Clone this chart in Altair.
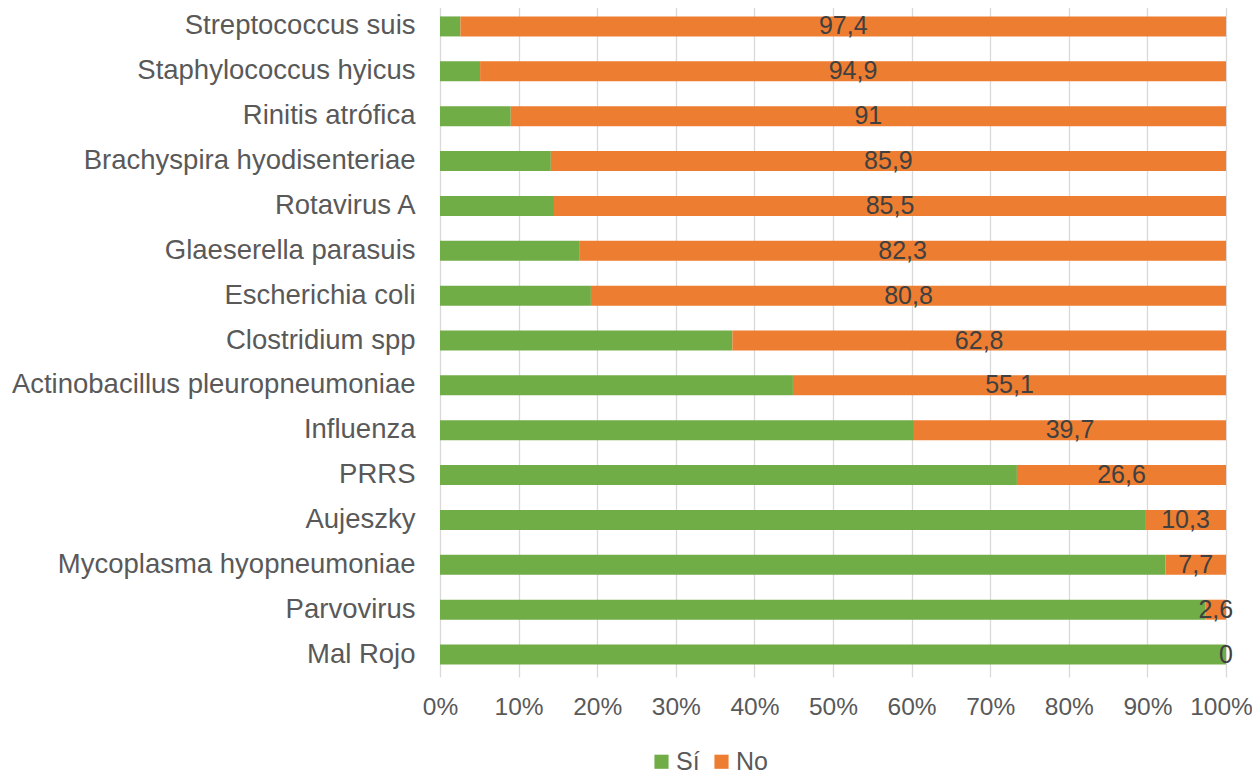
import altair as alt
import pandas as pd

categories = [
    "Streptococcus suis", "Staphylococcus hyicus", "Rinitis atrófica",
    "Brachyspira hyodisenteriae", "Rotavirus A", "Glaeserella parasuis",
    "Escherichia coli", "Clostridium spp", "Actinobacillus pleuropneumoniae",
    "Influenza", "PRRS", "Aujeszky", "Mycoplasma hyopneumoniae",
    "Parvovirus", "Mal Rojo",
]
si_values = [2.6, 5.1, 9.0, 14.1, 14.5, 17.7, 19.2, 37.2, 44.9, 60.3, 73.4, 89.7, 92.3, 97.4, 100.0]
no_values = [97.4, 94.9, 91.0, 85.9, 85.5, 82.3, 80.8, 62.8, 55.1, 39.7, 26.6, 10.3, 7.7, 2.6, 0.0]
no_labels = ["97,4", "94,9", "91", "85,9", "85,5", "82,3", "80,8", "62,8",
             "55,1", "39,7", "26,6", "10,3", "7,7", "2,6", "0"]
series = ["Sí", "No"]
colors = ["#70AD47", "#ED7D31"]

rows = []
for c, s, n in zip(categories, si_values, no_values):
    rows.append({"cat": c, "serie": "Sí", "value": s, "ord": 0})
    rows.append({"cat": c, "serie": "No", "value": n, "ord": 1})
long_df = pd.DataFrame(rows)
wide_df = pd.DataFrame({"cat": categories, "si": si_values, "no": no_values, "lbl": no_labels})

FONT = "Liberation Sans"

y_enc = alt.Y("cat:N", sort=categories, title=None,
              scale=alt.Scale(paddingInner=0, paddingOuter=0),
              axis=alt.Axis(labelFontSize=27.5, labelColor="#595959", labelFont=FONT,
                            labelPadding=25, domain=False, ticks=False, grid=False,
                            labelLimit=600))

bars = alt.Chart(long_df).mark_bar(size=20).encode(
    x=alt.X("value:Q", stack="zero", title=None,
            scale=alt.Scale(domain=[0, 100], nice=False),
            axis=alt.Axis(values=list(range(0, 101, 10)), labelExpr="datum.value + '%'",
                          labelFontSize=24.5, labelColor="#595959", labelFont=FONT,
                          labelPadding=18, labelOverlap=False, labelFlush=False,
                          labelOffset={"condition": {"test": "datum.value == 100", "value": -5},
                                       "value": 0},
                          domain=False, ticks=False, grid=True,
                          gridColor="#D9D9D9", gridWidth=1.3)),
    y=y_enc,
    color=alt.Color("serie:N", sort=series,
                    scale=alt.Scale(domain=series, range=colors),
                    legend=alt.Legend(title=None, orient="none", direction="horizontal",
                                      legendX=209, legendY=745, symbolType="square",
                                      symbolSize=200, symbolStrokeWidth=0,
                                      labelFontSize=25, labelColor="#595959",
                                      labelFont=FONT, columnPadding=9, labelOffset=2)),
    order=alt.Order("ord:Q"),
)

texts = alt.Chart(wide_df).transform_calculate(
    mid="datum.si + datum.no / 2"
).mark_text(fontSize=25, color="#404040", font=FONT, align="center", baseline="middle").encode(
    x=alt.X("mid:Q"),
    y=alt.Y("cat:N", sort=categories),
    text="lbl:N",
)

chart = alt.layer(bars, texts).properties(
    width=786, height=673,
    autosize=alt.AutoSizeParams(type="none"),
    padding={"left": 432, "top": -4, "right": 26, "bottom": 99},
).configure_view(stroke=None)

chart.save("out.html", embed_options={"renderer": "svg", "actions": False})
